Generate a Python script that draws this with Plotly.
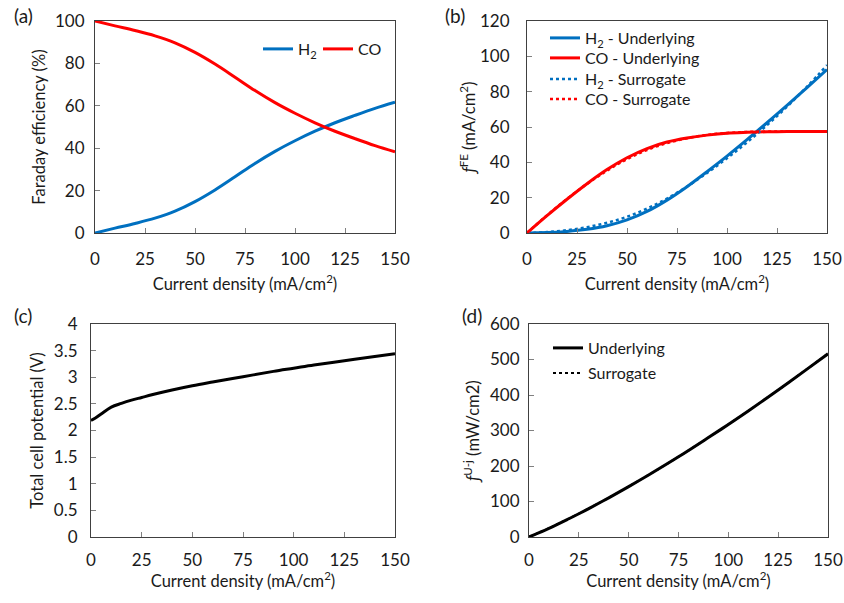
import plotly.graph_objects as go

# ---------------- data ----------------
# (a) Faraday efficiency
j_fe = [0, 10, 20, 30, 40, 50, 60, 70, 80, 90, 100, 110, 120, 130, 140, 150]
fe_h2 = [0, 2.3, 4.5, 7.0, 10.3, 14.8, 20.3, 26.5, 32.8, 38.5, 43.5, 48.0, 52.0, 55.5, 58.8, 61.7]
fe_co = [100, 97.7, 95.5, 93.0, 89.7, 85.2, 79.7, 73.5, 67.2, 61.5, 56.5, 52.0, 48.0, 44.5, 41.2, 38.3]

# (b) partial current densities
j_b = [0, 10, 20, 30, 40, 50, 60, 70, 80, 90, 100, 110, 120, 130, 140, 150]
h2_under = [0, 0.23, 0.9, 2.1, 4.1, 7.4, 12.2, 18.6, 26.2, 34.7, 43.5, 52.8, 62.4, 72.2, 82.3, 92.5]
h2_surr = [0, 0.5, 1.6, 3.3, 5.8, 9.2, 13.8, 19.5, 26.3, 34.0, 42.3, 51.3, 61.0, 71.5, 82.8, 95.0]
co_under = [0, 9.8, 19.1, 27.9, 35.9, 42.6, 47.8, 51.5, 53.8, 55.4, 56.5, 57.0, 57.3, 57.4, 57.5, 57.5]
co_surr = [0, 10.0, 19.3, 27.8, 35.3, 41.8, 47.0, 50.9, 53.6, 55.5, 56.6, 57.2, 57.4, 57.5, 57.5, 57.4]

# (c) total cell potential
j_c = [0, 2, 5, 10, 15, 20, 25, 30, 40, 50, 60, 75, 90, 100, 110, 125, 140, 150]
u_cell = [2.19, 2.23, 2.31, 2.44, 2.51, 2.57, 2.62, 2.67, 2.76, 2.84, 2.91, 3.01, 3.11, 3.17, 3.23, 3.31, 3.39, 3.44]

# (d) power density
j_d = [0, 10, 20, 25, 30, 40, 50, 60, 75, 90, 100, 110, 125, 140, 150]
p_under = [0, 24.4, 51.4, 65.5, 80, 110.4, 142, 174.6, 225.8, 280, 317, 355, 414, 475, 516]
p_surr = [0, 24.8, 51.8, 65.8, 80.3, 110.6, 142.2, 174.8, 226.0, 280.2, 317.2, 355.2, 414.2, 475.3, 516.5]

x_ticks = [0, 25, 50, 75, 100, 125, 150]

BLUE = "#0070C0"
RED = "#FF0000"
FONT = "Lato"
TXT = "#1a1a1a"

# figure fills the 844x603 page (body margin removed in post_script)
W, H = 844, 603


def fx(px):
    return px / W


def fy(py):
    return 1 - py / H


fig = go.Figure()

# (a)
fig.add_trace(go.Scatter(x=j_fe, y=fe_h2, mode="lines", name="H<sub>2</sub>",
                         line=dict(color=BLUE, width=3, shape="spline"),
                         xaxis="x", yaxis="y", legend="legend"))
fig.add_trace(go.Scatter(x=j_fe, y=fe_co, mode="lines", name="CO",
                         line=dict(color=RED, width=3, shape="spline"),
                         xaxis="x", yaxis="y", legend="legend2"))
# (b)
fig.add_trace(go.Scatter(x=j_b, y=h2_under, mode="lines", name="H<sub>2</sub> - Underlying",
                         line=dict(color=BLUE, width=3, shape="spline"),
                         xaxis="x2", yaxis="y2", legend="legend3"))
fig.add_trace(go.Scatter(x=j_b, y=co_under, mode="lines", name="CO - Underlying",
                         line=dict(color=RED, width=3, shape="spline"),
                         xaxis="x2", yaxis="y2", legend="legend4"))
fig.add_trace(go.Scatter(x=j_b, y=h2_surr, mode="lines", name="H<sub>2</sub> - Surrogate",
                         line=dict(color=BLUE, width=2.5, dash="dot", shape="spline"),
                         xaxis="x2", yaxis="y2", legend="legend5"))
fig.add_trace(go.Scatter(x=j_b, y=co_surr, mode="lines", name="CO - Surrogate",
                         line=dict(color=RED, width=2.5, dash="dot", shape="spline"),
                         xaxis="x2", yaxis="y2", legend="legend6"))
# (c)
fig.add_trace(go.Scatter(x=j_c, y=u_cell, mode="lines", name="Total cell potential",
                         line=dict(color="black", width=3, shape="spline"),
                         xaxis="x3", yaxis="y3", showlegend=False))
# (d)
fig.add_trace(go.Scatter(x=j_d, y=p_under, mode="lines", name="Underlying",
                         line=dict(color="black", width=3, shape="spline"),
                         xaxis="x4", yaxis="y4", legend="legend7"))
fig.add_trace(go.Scatter(x=j_d, y=p_surr, mode="lines", name="Surrogate",
                         line=dict(color="black", width=2, dash="dot", shape="spline"),
                         xaxis="x4", yaxis="y4", legend="legend8"))

TICK_FS = 17
TITLE_FS = 16.5
axis_common = dict(
    showline=True, linecolor="#404040", linewidth=1.2, mirror=True,
    ticks="inside", ticklen=5, tickcolor="#808080", tickwidth=1,
    showgrid=False, zeroline=False, automargin=False,
    tickfont=dict(family=FONT, size=TICK_FS, color=TXT),
)


def xtitle(standoff):
    return dict(text="Current density (mA/cm<sup>2</sup>)",
                font=dict(family=FONT, size=TITLE_FS, color=TXT), standoff=standoff)


layout = dict(
    width=W, height=H,
    margin=dict(l=0, r=0, t=0, b=0, autoexpand=False),
    paper_bgcolor="white", plot_bgcolor="white",
    font=dict(family=FONT, size=TITLE_FS, color=TXT),
)

for name, (l, r), anchor, lab_off, tit_off in [
        ("xaxis", (95, 395), "y", 10, 10), ("xaxis2", (527, 827), "y2", 10, 10),
        ("xaxis3", (91, 395), "y3", 7, 0), ("xaxis4", (529, 828), "y4", 7, 0)]:
    layout[name] = dict(axis_common, domain=[fx(l), fx(r)], anchor=anchor, range=[0, 150],
                        tickvals=x_ticks, ticklabelstandoff=lab_off, title=xtitle(tit_off))


def ydom(top, bottom):
    return [fy(bottom), fy(top)]


def ytitle(text, standoff=6):
    return dict(text=text, font=dict(family=FONT, size=TITLE_FS, color=TXT), standoff=standoff)


layout["yaxis"] = dict(axis_common, domain=ydom(21, 233), anchor="x", range=[0, 100], dtick=20,
                       ticklabelstandoff=6, title=ytitle("Faraday efficiency (%)", 5))
layout["yaxis2"] = dict(axis_common, domain=ydom(21, 233), anchor="x2", range=[0, 120], dtick=20,
                        ticklabelstandoff=13, title=ytitle("<i>ƒ</i><sup>FE</sup> (mA/cm<sup>2</sup>)", 0))
layout["yaxis3"] = dict(axis_common, domain=ydom(324, 537), anchor="x3", range=[0, 4], dtick=0.5,
                        ticklabelstandoff=9, title=ytitle("Total cell potential (V)", 5))
layout["yaxis4"] = dict(axis_common, domain=ydom(324, 537), anchor="x4", range=[0, 600], dtick=100,
                        ticklabelstandoff=5, title=ytitle("<i>ƒ</i><sup>U-j</sup> (mW/cm2)", 6))

# one legend per entry so each row sits where the reference has it
legend_pos = {
    "legend": (258, 49), "legend2": (318, 49),
    "legend3": (545, 38), "legend4": (545, 58), "legend5": (545, 79), "legend6": (545, 99),
    "legend7": (548, 348), "legend8": (548, 373),
}
for name, (lx, ly) in legend_pos.items():
    layout[name] = dict(orientation="v", x=fx(lx), y=fy(ly), xanchor="left", yanchor="middle",
                        bgcolor="rgba(0,0,0,0)", borderwidth=0,
                        font=dict(family=FONT, size=16, color=TXT), itemwidth=30)

ann = []
for txt, xx, yy in [("(a)", 12, 16), ("(b)", 443, 16), ("(c)", 12, 316), ("(d)", 460, 316)]:
    ann.append(dict(text=txt, x=fx(xx), y=fy(yy), xref="paper", yref="paper",
                    xanchor="left", yanchor="middle", showarrow=False,
                    font=dict(family=FONT, size=19, color=TXT)))
layout["annotations"] = ann

fig.update_layout(layout)
fig.write_html("out.html", config={"displayModeBar": False},
               post_script="document.body.style.margin='0';document.body.style.overflow='hidden';")
